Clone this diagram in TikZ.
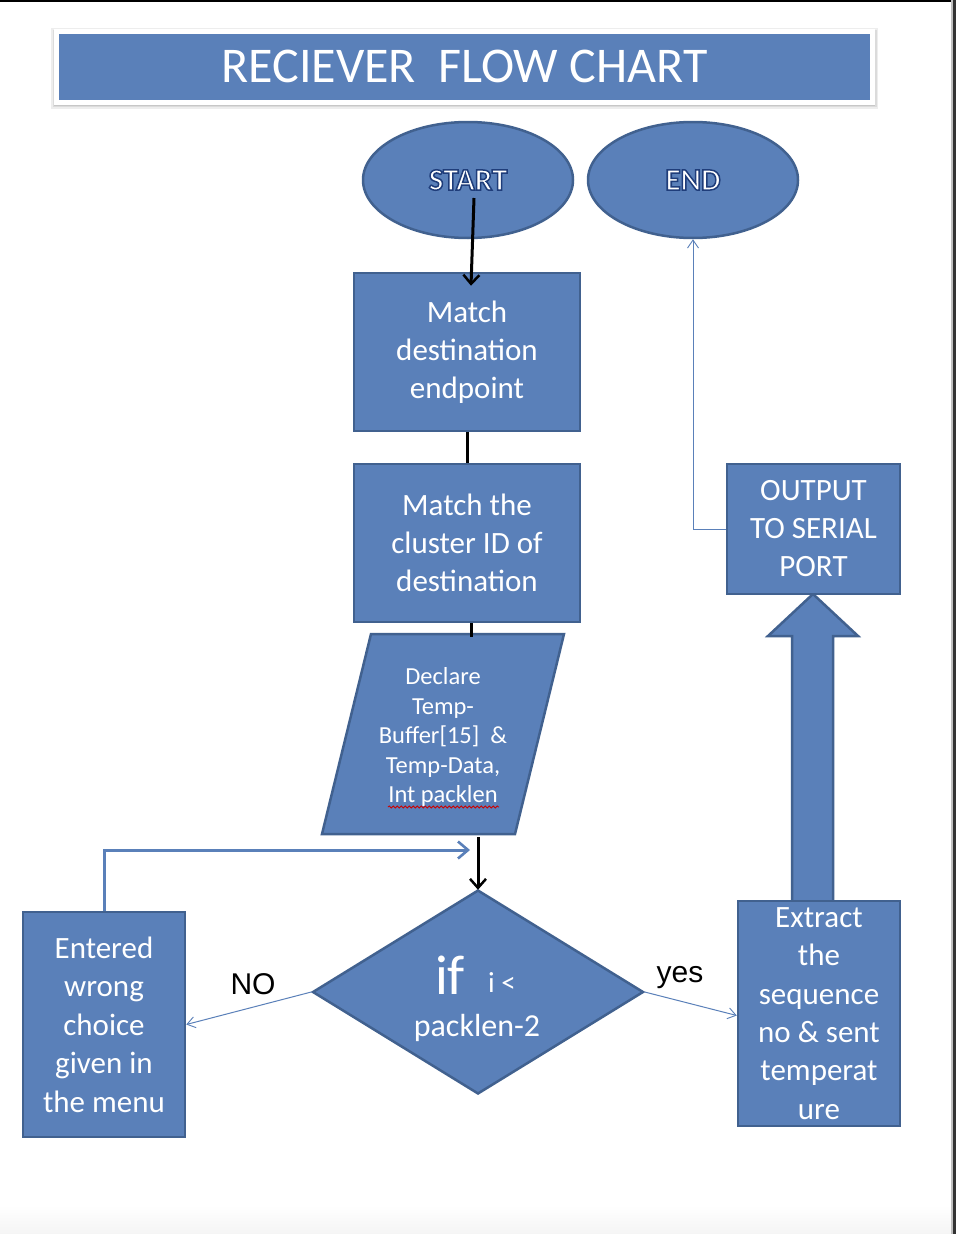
\documentclass[tikz,border=0pt]{standalone}
\usepackage{fontspec}
\setmainfont{Carlito}
\newfontfamily\arialf{Liberation Sans}
\usetikzlibrary{arrows.meta,shapes.geometric,decorations.pathmorphing,calc}
\definecolor{bfill}{HTML}{5A80B9}
\definecolor{bdraw}{HTML}{41618F}
\newcommand\oltx[1]{\special{pdf:literal direct 0.12 0.24 0.48 RG 1.5 w 2 Tr}#1\special{pdf:literal direct 0 Tr}}
\begin{document}
\begin{tikzpicture}[x=1pt,y=-1pt,
  box/.style={rectangle, draw=bdraw, line width=2.5pt, fill=bfill, text=white, align=center, inner sep=0pt},
  oval/.style={ellipse, draw=bdraw, line width=2.5pt, fill=bfill, text=white, inner sep=0pt, minimum width=210pt, minimum height=116pt, font=\bfseries\fontsize{31}{36}\selectfont},
  blk/.style={draw=black, line width=3pt},
  blkarr/.style={blk, -{Straight Barb[length=9pt,width=16pt,line width=2.5pt]}},
  thinarr/.style={draw=bfill, line width=1pt, -{Straight Barb[length=8pt,width=11pt,line width=0.9pt]}},
  looparr/.style={draw=bfill, line width=3pt, -{Straight Barb[length=10pt,width=17pt,line width=2.6pt]}},
  txt/.style={text=white, align=center, inner sep=0pt}
]
\useasboundingbox (0,0) rectangle (956,1234);
\fill[white] (0,0) rectangle (956,1234);
\shade[top color=white, bottom color=black!4] (0,1205) rectangle (951,1234);
\fill[black] (0,0) rectangle (956,2);
\fill[black!25] (951,0) rectangle (953,1234);
\fill[black!80] (953,0) rectangle (956,1234);

% title with soft shadow
\fill[black!7] (51,28) rectangle (878,109);
\fill[black!14] (52.5,29.5) rectangle (876.5,107);
\fill[black!22] (54,31) rectangle (875,105.5);
\node[rectangle, fill=bfill, draw=white, line width=5pt, minimum width=816pt, minimum height=71pt,
  text=white, font=\fontsize{50}{56}\selectfont, inner sep=0pt] (title) at (464.5,66.5) {RECIEVER\ \ FLOW CHART};

% block arrow (behind boxes)
\filldraw[fill=bfill, draw=bdraw, line width=2.5pt, line join=miter]
  (792,902) -- (792,636) -- (768,636) -- (813,594) -- (858,636) -- (833,636) -- (833,902) -- cycle;

\node[oval] (start) at (468,180) {\oltx{START}};
\node[oval] (endn) at (693,180) {\oltx{END}};

\node[box, minimum width=226pt, minimum height=158pt, font=\fontsize{31}{38}\selectfont] (box1) at (467,352) {Match\\destination\\endpoint};
\node[box, minimum width=226pt, minimum height=158pt, font=\fontsize{31}{38}\selectfont] (box2) at (467,543) {Match the\\cluster ID of\\destination};

% parallelogram
\filldraw[fill=bfill, draw=bdraw, line width=2.5pt, line join=miter]
  (371,634) -- (564,634) -- (515,834) -- (322,834) -- cycle;
\node[txt, minimum height=200pt, minimum width=150pt, font=\fontsize{24.5}{29.5}\selectfont] (para) at (443,737) {Declare\\Temp-\\Buffer[15]\ \ \&\\Temp-Data,\\Int packlen};
\draw[red!80!black, line width=0.8pt, decorate, decoration={snake, amplitude=1.1pt, segment length=4pt}] (388,807) -- (499,807);

% diamond
\node[diamond, draw=bdraw, line width=2.5pt, fill=bfill, inner sep=0pt, minimum width=331pt, minimum height=204pt] (dia) at (478,992) {};
\node[txt, anchor=base, font=\fontsize{56}{60}\selectfont] (iftxt) at (450,994) {if};
\node[txt, anchor=base west, font=\fontsize{29}{34}\selectfont] (itxt) at (488,992) {i <};
\node[txt, anchor=base, font=\fontsize{32}{36}\selectfont] (pktxt) at (477,1036) {packlen-2};

\node[box, minimum width=162pt, minimum height=225pt, font=\fontsize{31}{38.5}\selectfont] (wrong) at (104,1024.5) {Entered\\wrong\\choice\\given in\\the menu};
\node[box, minimum width=162pt, minimum height=225pt, font=\fontsize{31}{38.4}\selectfont] (extract) at (819,1013.5) {Extract\\the\\sequence\\no \& sent\\temperat\\ure};
\node[box, minimum width=173pt, minimum height=130pt, font=\fontsize{31}{38}\selectfont] (output) at (813.5,529) {OUTPUT\\TO SERIAL\\PORT};

\node[anchor=base, inner sep=0pt, font=\arialf\fontsize{30}{36}\selectfont] (no) at (253,994) {NO};
\node[anchor=base, inner sep=0pt, font=\arialf\fontsize{30}{36}\selectfont] (yes) at (680,982) {yes};

% connectors
\draw[blkarr] ([xshift=6pt,yshift=-18pt]start.center) -- ([xshift=4pt,yshift=-14pt]box1.north);
\draw[blk] (box1.south) -- (box2.north);
\draw[blk] ([xshift=4pt]box2.south) -- ([xshift=4pt]box2.south |- para.north);
\draw[blkarr] (para.south -| dia.north) -- ([yshift=-1pt]dia.north);
\coordinate (loopend) at (470,850);
\draw[looparr] (wrong.north) |- (loopend);
\draw[thinarr] (dia.west) -- (wrong.east);
\draw[thinarr] (dia.east) -- ([yshift=-2pt]extract.west);
\draw[thinarr] (output.west) -| (endn.south);
\end{tikzpicture}
\end{document}
